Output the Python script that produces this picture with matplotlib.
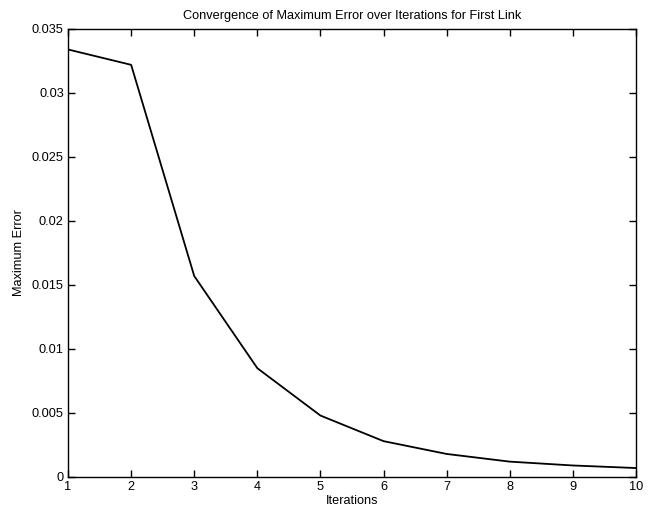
import matplotlib
matplotlib.use("Agg")
import matplotlib.pyplot as plt

iterations = [1, 2, 3, 4, 5, 6, 7, 8, 9, 10]
max_error = [0.0334, 0.0322, 0.0157, 0.0085, 0.0048, 0.0028, 0.0018, 0.0012, 0.0009, 0.0007]
y_ticks = [0, 0.005, 0.01, 0.015, 0.02, 0.025, 0.03, 0.035]
y_tick_labels = ["0", "0.005", "0.01", "0.015", "0.02", "0.025", "0.03", "0.035"]

plt.rcParams["font.family"] = ["Liberation Sans", "DejaVu Sans"]
plt.rcParams["font.size"] = 9.2

fig = plt.figure(figsize=(6.65, 5.14), dpi=100)
ax = fig.add_axes([0.1023, 0.072, 0.854, 0.8716])
ax.plot(iterations, max_error, color="black", linewidth=1.3)

ax.set_xlim(1, 10)
ax.set_ylim(0, 0.035)
ax.set_xticks(iterations)
ax.set_yticks(y_ticks)
ax.set_yticklabels(y_tick_labels)
ax.tick_params(direction="in", top=True, right=True, length=5, width=1, pad=3)
for spine in ax.spines.values():
    spine.set_linewidth(1)

ax.set_title("Convergence of Maximum Error over Iterations for First Link", fontsize=9.2, pad=7)
ax.set_xlabel("Iterations", labelpad=1)
ax.set_ylabel("Maximum Error", labelpad=5)

fig.savefig("out.png", dpi=100)
